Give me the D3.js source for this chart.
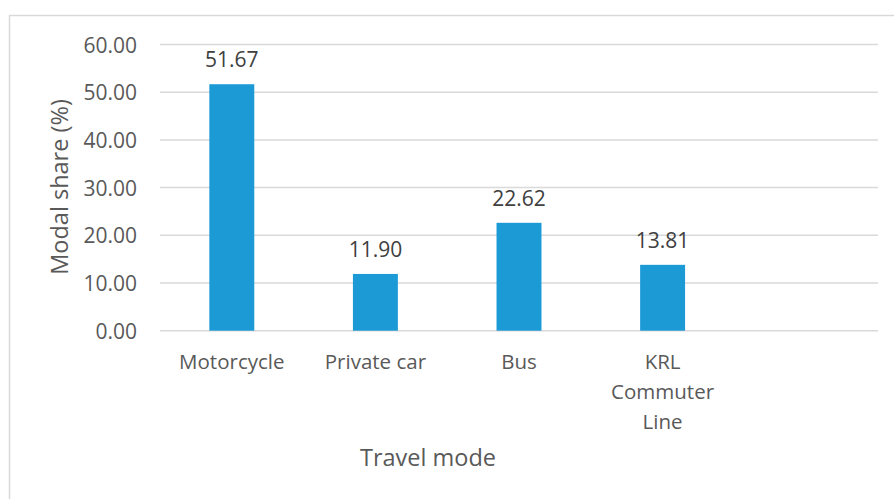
<!DOCTYPE html>
<html><head><meta charset="utf-8">
<script src="https://cdn.jsdelivr.net/npm/d3@7"></script>
<style>body{margin:0;background:#fff}svg{display:block}text{font-family:"Open Sans",sans-serif}</style>
</head><body><svg id="c" width="894" height="499"></svg>
<script>
const categories = [["Motorcycle"], ["Private car"], ["Bus"], ["KRL","Commuter","Line"], [""]];
const values = [51.67, 11.90, 22.62, 13.81, null];
const yTicks = [0, 10, 20, 30, 40, 50, 60];
const yTitle = "Modal share (%)";
const xTitle = "Travel mode";

const svg = d3.select("#c");
svg.append("rect").attr("x",9.5).attr("y",15.5).attr("width",900).attr("height",600)
  .attr("fill","#fff").attr("stroke","#d9d9d9").attr("stroke-width",1.5);

const x = d3.scaleBand().domain(d3.range(categories.length)).range([160,878])
  .paddingInner(0.687).paddingOuter(0.3435);
const y = d3.scaleLinear().domain([0,60]).range([330.7,44.5]);

const grid = svg.append("g");
grid.selectAll("line").data(yTicks).join("line")
  .attr("x1",160).attr("x2",878).attr("y1",d=>y(d)).attr("y2",d=>y(d))
  .attr("stroke","#d9d9d9").attr("stroke-width",1.5);

const yAxis = svg.append("g").attr("transform","translate(160,0)")
  .call(d3.axisLeft(y).tickValues(yTicks).tickFormat(d3.format(".2f")).tickSize(0).tickPadding(23));
yAxis.select(".domain").remove();
yAxis.selectAll("text").attr("fill","#595959").style("font-size","21px").attr("dy","0.36em");

const data = values.map((v,i)=>({i,v})).filter(d=>d.v!=null);
svg.append("g").selectAll("rect").data(data).join("rect")
  .attr("x",d=>x(d.i)).attr("width",x.bandwidth())
  .attr("y",d=>y(d.v)).attr("height",d=>y(0)-y(d.v))
  .attr("fill","#1b9ad6");

svg.append("g").selectAll("text").data(data).join("text")
  .attr("x",d=>x(d.i)+x.bandwidth()/2).attr("y",d=>y(d.v)-17)
  .attr("text-anchor","middle").attr("fill","#404040").style("font-size","21px")
  .text(d=>d.v.toFixed(2));

const cat = svg.append("g");
categories.forEach((lines,i)=>{
  const t = cat.append("text").attr("text-anchor","middle").attr("fill","#595959").style("font-size","20.5px");
  lines.forEach((l,j)=>t.append("tspan").attr("x",x(i)+x.bandwidth()/2).attr("y",369+30*j).text(l));
});

svg.append("text").attr("x",428).attr("y",466).attr("text-anchor","middle")
  .attr("fill","#595959").style("font-size","23.5px").text(xTitle);
svg.append("text").attr("transform","translate(68,187) rotate(-90)").attr("text-anchor","middle")
  .attr("fill","#595959").style("font-size","23.5px").text(yTitle);
</script></body></html>
